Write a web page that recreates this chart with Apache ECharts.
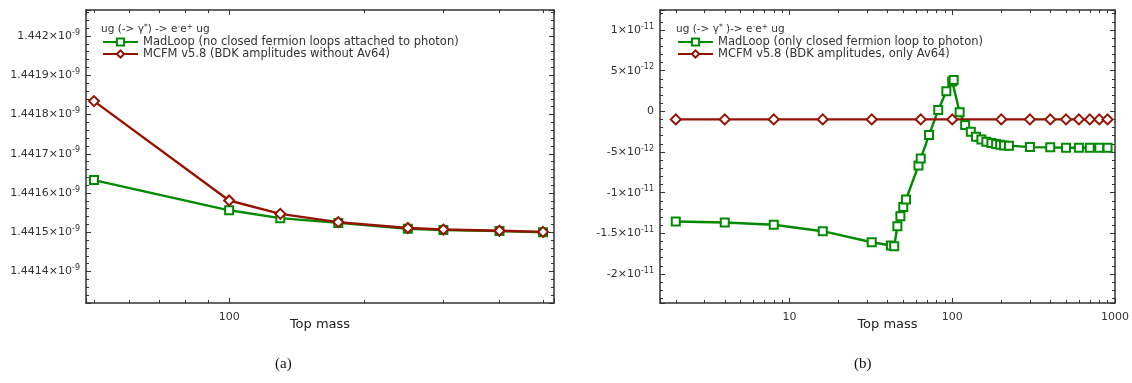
<!DOCTYPE html>
<html>
<head>
<meta charset="utf-8">
<script src="https://cdn.jsdelivr.net/npm/echarts@6/dist/echarts.min.js"></script>
<style>html,body{margin:0;padding:0;background:#fff;}</style>
</head>
<body>
<div id="main" style="width:1132px;height:383px;"></div>
<script>
// (a) no closed fermion loops attached to photon
var massA = [50, 100, 130, 175, 250, 300, 400, 500];
var madLoopA = [1.441633e-9, 1.441556e-9, 1.441536e-9, 1.441524e-9, 1.441509e-9, 1.441506e-9, 1.441503e-9, 1.441500e-9];
var mcfmA = [1.441834e-9, 1.441581e-9, 1.441547e-9, 1.441526e-9, 1.441511e-9, 1.441507e-9, 1.441504e-9, 1.441501e-9];

// (b) only closed fermion loop to photon
var massMadB = [2, 4, 8, 16, 32, 42, 44, 46, 48, 50, 52, 62, 64, 72, 82, 92, 100, 102, 111, 120,
  130, 140, 151, 162, 174, 186, 197, 208, 223, 300, 400, 500, 600, 700, 800, 900];
var madLoopB = [-1.355e-11, -1.367e-11, -1.395e-11, -1.474e-11, -1.61e-11, -1.650e-11, -1.659e-11, -1.412e-11,
  -1.289e-11, -1.178e-11, -1.084e-11, -6.65e-12, -5.79e-12, -2.92e-12, 0.16e-12, 2.46e-12, 3.66e-12, 3.85e-12,
  -0.12e-12, -1.69e-12, -2.50e-12, -3.12e-12, -3.45e-12, -3.73e-12, -3.90e-12, -4.03e-12, -4.10e-12, -4.19e-12,
  -4.22e-12, -4.40e-12, -4.43e-12, -4.47e-12, -4.47e-12, -4.47e-12, -4.47e-12, -4.47e-12];
var massMcfmB = [2, 4, 8, 16, 32, 64, 100, 200, 300, 400, 500, 600, 700, 800, 900];
var mcfmB = [-0.99e-12, -0.99e-12, -0.99e-12, -0.99e-12, -0.99e-12, -0.99e-12, -0.99e-12, -0.99e-12,
  -0.99e-12, -0.99e-12, -0.99e-12, -0.99e-12, -0.99e-12, -0.99e-12, -0.99e-12];

var nameMadA = 'MadLoop (no closed fermion loops attached to photon)';
var nameMcfmA = 'MCFM v5.8 (BDK amplitudes without Av64)';
var nameMadB = 'MadLoop (only closed fermion loop to photon)';
var nameMcfmB = 'MCFM v5.8 (BDK amplitudes, only Av64)';

var green = '#008a00';
var red = '#961200';
var font = 'DejaVu Sans';
var ink = '#333';

function pairs(xs, ys) {
  return xs.map(function (x, i) { return [x, ys[i]]; });
}

// exponent labels like 1.442x10^-9
var supRich = {
  m: {fontSize: 11, color: ink, fontFamily: font},
  e: {fontSize: 8, color: ink, fontFamily: font, padding: [0, 0, 7, 0]}
};
function sciLabel(v) {
  if (Math.abs(v) < 1e-20) return '{m|0}';
  var ex = Math.floor(Math.log10(Math.abs(v)) + 1e-9);
  var mant = v / Math.pow(10, ex);
  var s = mant.toFixed(4).replace(/0+$/, '').replace(/\.$/, '');
  return '{m|' + s + '×10}{e|' + ex + '}';
}
function sciLabelA(v) {
  var s = (v * 1e9).toFixed(4).replace(/0+$/, '').replace(/\.$/, '');
  return '{m|' + s + '×10}{e|-9}';
}
function decadeLabel(v) {
  var l = Math.log10(v);
  return Math.abs(l - Math.round(l)) < 1e-6 ? String(Math.round(v)) : '';
}

function xAxis(grid, min, max, top) {
  return {
    type: 'log', gridIndex: grid, min: min, max: max, position: top ? 'top' : 'bottom',
    axisLine: {show: true, onZero: false, lineStyle: {color: ink, width: 1.5}},
    axisTick: {show: true, inside: true, length: 5, lineStyle: {color: ink}},
    minorTick: {show: true, splitNumber: 9, length: 3, lineStyle: {color: ink}},
    splitLine: {show: false},
    axisLabel: {show: !top, margin: 9, fontSize: 11, color: ink, fontFamily: font,
      alignMaxLabel: 'center', alignMinLabel: 'center', formatter: decadeLabel},
    name: top ? '' : 'Top mass', nameLocation: 'middle', nameGap: 15, nameMoveOverlap: false,
    nameTextStyle: {fontSize: 13, color: '#222', fontFamily: font, verticalAlign: 'top'}
  };
}
function yAxis(grid, min, max, right, fmt) {
  return {
    type: 'value', gridIndex: grid, min: min, max: max, splitNumber: 7, position: right ? 'right' : 'left',
    axisLine: {show: true, onZero: false, lineStyle: {color: ink, width: 1.5}},
    axisTick: {show: true, inside: true, length: 5, lineStyle: {color: ink}},
    minorTick: {show: true, splitNumber: 5, length: 3, lineStyle: {color: ink}},
    splitLine: {show: false},
    axisLabel: {show: !right, margin: 6, showMinLabel: false, showMaxLabel: false, formatter: fmt, rich: supRich}
  };
}
function line(name, xi, yi, data, color, symbol, size) {
  return {
    name: name, type: 'line', xAxisIndex: xi, yAxisIndex: yi, data: data,
    color: color, symbol: symbol, symbolSize: size, showAllSymbol: true,
    lineStyle: {color: color, width: 2.4},
    itemStyle: {color: '#fff', borderColor: color, borderWidth: 2}
  };
}

var chart = echarts.init(document.getElementById('main'));
var legendText = {fontSize: 11.5, color: ink, fontFamily: font, lineHeight: 12};
var titleStyle = {fontSize: 10.5, fontWeight: 'normal', color: ink, fontFamily: font,
  rich: {s: {fontSize: 7.5, color: ink, fontFamily: font, padding: [0, 0, 5, 0]}}};

chart.setOption({
  animation: false,
  backgroundColor: '#fff',
  title: [
    {text: 'ug (-> γ{s|*}) -> e{s|-}e{s|+} ug', left: 101, top: 23, padding: 0, textStyle: titleStyle},
    {text: 'ug (-> γ{s|*} )-> e{s|-}e{s|+} ug', left: 676, top: 23, padding: 0, textStyle: titleStyle}
  ],
  legend: [
    {orient: 'vertical', left: 102, top: 36, padding: 0, itemWidth: 35, itemHeight: 9, itemGap: 0,
      data: [nameMadA, nameMcfmA], textStyle: legendText},
    {orient: 'vertical', left: 677, top: 36, padding: 0, itemWidth: 35, itemHeight: 9, itemGap: 0,
      data: [nameMadB, nameMcfmB], textStyle: legendText}
  ],
  grid: [
    {left: 86, top: 10, width: 468, height: 293},
    {left: 660, top: 10, width: 467, height: 293}
  ],
  xAxis: [
    xAxis(0, 48, 529, false), xAxis(0, 48, 529, true),
    xAxis(1, 1.6, 1000, false), xAxis(1, 1.6, 1000, true)
  ],
  yAxis: [
    yAxis(0, 1.44132e-9, 1.442066e-9, false, sciLabelA), yAxis(0, 1.44132e-9, 1.442066e-9, true, sciLabelA),
    yAxis(1, -2.357e-11, 1.246e-11, false, sciLabel), yAxis(1, -2.357e-11, 1.246e-11, true, sciLabel)
  ],
  series: [
    line(nameMadA, 0, 0, pairs(massA, madLoopA), green, 'rect', 8),
    line(nameMcfmA, 0, 0, pairs(massA, mcfmA), red, 'diamond', 10),
    line(nameMadB, 2, 2, pairs(massMadB, madLoopB), green, 'rect', 8),
    line(nameMcfmB, 2, 2, pairs(massMcfmB, mcfmB), red, 'diamond', 10)
  ],
  graphic: [
    {type: 'text', left: 275, top: 357, style: {text: '(a)', fontSize: 15, fontFamily: 'Liberation Serif', fill: '#111'}},
    {type: 'text', left: 854, top: 357, style: {text: '(b)', fontSize: 15, fontFamily: 'Liberation Serif', fill: '#111'}}
  ]
});
</script>
</body>
</html>
